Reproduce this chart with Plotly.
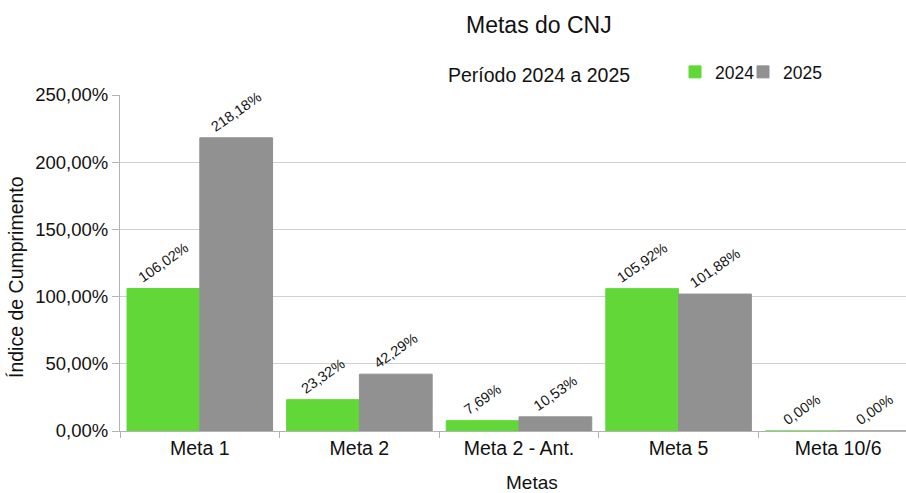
import plotly.graph_objects as go

categories = ["Meta 1", "Meta 2", "Meta 2 - Ant.", "Meta 5", "Meta 10/6"]
values_2024 = [106.02, 23.32, 7.69, 105.92, 0.00]
values_2025 = [218.18, 42.29, 10.53, 101.88, 0.00]
y_ticks = [0, 50, 100, 150, 200, 250]
y_tick_labels = ["0,00%", "50,00%", "100,00%", "150,00%", "200,00%", "250,00%"]

GREEN = "#62d838"
GREY = "#919191"
FONT = "Liberation Sans, Arial, sans-serif"

W, H = 906, 493
L, R, T, B = 120, 0, 95, 62
pw = W - L - R
ph = H - T - B

def px_x(x):
    return (x - L) / pw

def px_y(y):
    return (H - B - y) / ph

fig = go.Figure()
for name, vals, col, leg in [("2024", values_2024, GREEN, "legend"),
                             ("2025", values_2025, GREY, "legend2")]:
    fig.add_trace(go.Bar(
        x=categories, y=vals, name=name, legend=leg, showlegend=True,
        marker=dict(color=col, line=dict(color=col, width=1)),
        texttemplate="%{y:.2f}%", textposition="outside", textangle=-35,
        textfont=dict(family=FONT, size=14.5, color="#111111"),
        cliponaxis=False,
    ))

leg_common = dict(orientation="h", xanchor="left", y=px_y(72), yanchor="middle",
                  font=dict(size=17.5), itemwidth=30, bgcolor="rgba(0,0,0,0)")

fig.update_layout(
    width=W, height=H,
    showlegend=True,
    margin=dict(l=L, r=R, t=T, b=B, autoexpand=False),
    paper_bgcolor="white", plot_bgcolor="white",
    barmode="group", bargap=0.088, bargroupgap=0,
    separators=",.",
    font=dict(family=FONT, size=18, color="#111111"),
    legend=dict(x=px_x(675), **leg_common),
    legend2=dict(x=px_x(743), **leg_common),
    xaxis=dict(range=[-0.5, 4.425], showline=True, linecolor="#b3b3b3", linewidth=1,
               ticks="outside", tickson="boundaries", ticklen=6, tickcolor="#b3b3b3",
               tickfont=dict(size=19.5), showgrid=False),
    yaxis=dict(range=[0, 250], tickvals=y_ticks, ticktext=y_tick_labels,
               showline=True, linecolor="#b3b3b3", linewidth=1,
               ticks="outside", ticklen=7, tickcolor="#b3b3b3",
               gridcolor="#d0d0d0", gridwidth=1, zeroline=False,
               tickfont=dict(size=18.5)),
    annotations=[
        dict(text="Metas do CNJ", x=px_x(539), y=px_y(25), xref="paper", yref="paper",
             showarrow=False, font=dict(size=23), xanchor="center", yanchor="middle"),
        dict(text="Período 2024 a 2025", x=px_x(539), y=px_y(75), xref="paper", yref="paper",
             showarrow=False, font=dict(size=19.5), xanchor="center", yanchor="middle"),
        dict(text="Metas", x=px_x(532), y=px_y(483), xref="paper", yref="paper",
             showarrow=False, font=dict(size=19), xanchor="center", yanchor="middle"),
        dict(text="Índice de Cumprimento", x=px_x(16), y=px_y(277), xref="paper", yref="paper",
             showarrow=False, font=dict(size=19.5), textangle=-90, xanchor="center", yanchor="middle"),
    ],
)

fig.write_html("out.html", config={"displayModeBar": False},
               post_script="document.body.style.margin='0';window.dispatchEvent(new Event('resize'));")
